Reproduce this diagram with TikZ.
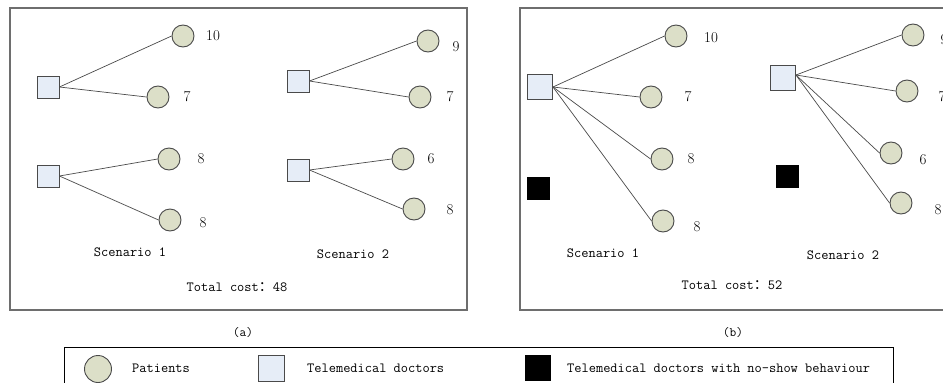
\documentclass[tikz,border=0pt]{standalone}
\usepackage{fontspec}
\newfontfamily\cjk{Noto Sans CJK SC}
\definecolor{patientfill}{HTML}{DCDFC8}
\definecolor{doctorfill}{HTML}{E6EDF7}
\definecolor{edgegray}{HTML}{4A4A4A}
\definecolor{framegray}{HTML}{6E6E6E}
\tikzset{
  patient/.style={circle, draw=edgegray, fill=patientfill, line width=0.9pt, minimum size=22pt, inner sep=0pt},
  doctor/.style={rectangle, draw=edgegray, fill=doctorfill, line width=0.9pt, minimum size=#1, inner sep=0pt},
  doctor/.default=22pt,
  noshow/.style={rectangle, fill=black, minimum size=#1, inner sep=0pt},
  noshow/.default=23pt,
  link/.style={draw=edgegray, line width=0.7pt},
  frame/.style={draw=framegray, line width=1.3pt},
  cost/.style={font=\fontsize{15}{17}\selectfont, inner sep=0pt},
  caption/.style={font=\fontsize{14}{16}\ttfamily, inner sep=0pt},
  tag/.style={font=\fontsize{13}{15}\ttfamily, inner sep=0pt},
}
\newcommand{\fwcolon}{{\cjk ：}}
\begin{document}
\begin{tikzpicture}[x=1pt, y=-1pt]
\useasboundingbox (0,0) rectangle (943,383);
\clip (0,0) rectangle (943,383);
\fill[white] (0,0) rectangle (943,383);

% ---------- panel (a) ----------
\draw[frame] (10,8) rectangle (467,310);
\node[doctor] (a1d) at (48,87) {};
\node[patient] (a1p1) at (183,36) {};
\node[patient] (a1p2) at (158,97) {};
\node[doctor] (a2d) at (48,176) {};
\node[patient] (a2p1) at (169,159) {};
\node[patient] (a2p2) at (170,220) {};
\node[doctor] (a3d) at (298,81) {};
\node[patient] (a3p1) at (428,41) {};
\node[patient] (a3p2) at (420,97) {};
\node[doctor] (a4d) at (298,170) {};
\node[patient] (a4p1) at (403,159) {};
\node[patient] (a4p2) at (414,209) {};
\foreach \d/\p in {a1d/a1p1,a1d/a1p2,a2d/a2p1,a2d/a2p2,a3d/a3p1,a3d/a3p2,a4d/a4p1,a4d/a4p2}
  \draw[link] (\d.east) -- (\p.west);
\node[cost] (a1c1) at (213,36) {10};
\node[cost] (a1c2) at (187,97) {7};
\node[cost] (a2c1) at (201,159) {8};
\node[cost] (a2c2) at (203,223) {8};
\node[cost] (a3c1) at (456,47) {9};
\node[cost] (a3c2) at (450,97) {7};
\node[cost] (a4c1) at (431,159) {6};
\node[cost] (a4c2) at (450,210) {8};
\node[caption] (sa1) at (130,252) {Scenario 1};
\node[caption] (sa2) at (353,254) {Scenario 2};
\node[caption] (ta) at (237,287) {Total cost\fwcolon48};
\node[tag] (capa) at (243,333) {(a)};

% ---------- panel (b) ----------
\draw[frame] (520,8) rectangle (960,310);
\node[doctor=25pt] (b1d) at (540,87) {};
\node[patient] (b1p1) at (676,36) {};
\node[patient] (b1p2) at (651,97) {};
\node[patient] (b1p3) at (662,159) {};
\node[patient] (b1p4) at (663,221) {};
\node[noshow] (b1x) at (538,188) {};
\node[doctor=25pt] (b2d) at (783,78) {};
\node[patient] (b2p1) at (913,35) {};
\node[patient] (b2p2) at (907,91) {};
\node[patient] (b2p3) at (891,153) {};
\node[patient] (b2p4) at (901,203) {};
\node[noshow] (b2x) at (787,176) {};
\foreach \p in {b1p1,b1p2,b1p3,b1p4}
  \draw[link] (b1d.east) -- (\p.west);
\foreach \p in {b2p1,b2p2,b2p3,b2p4}
  \draw[link] ([yshift=3pt]b2d.east) -- (\p.west);
\node[cost] (b1c1) at (711,38) {10};
\node[cost] (b1c2) at (688,97) {7};
\node[cost] (b1c3) at (691,159) {8};
\node[cost] (b1c4) at (697,227) {8};
\node[cost] (b2c1) at (944,40) {9};
\node[cost] (b2c2) at (942,97) {7};
\node[cost] (b2c3) at (923,160) {6};
\node[cost] (b2c4) at (938,210) {8};
\node[caption] (sb1) at (603,253) {Scenario 1};
\node[caption] (sb2) at (843,255) {Scenario 2};
\node[caption] (tb) at (732,285) {Total cost\fwcolon52};
\node[tag] (capb) at (733,333) {(b)};

% ---------- legend ----------
\draw[draw=black, line width=0.8pt] (64,347) rectangle (893,400);
\node[patient, minimum size=27pt] (lp) at (98,369) {};
\node[caption, anchor=west] (lpt) at (132,368) {Patients};
\node[doctor=26pt] (ld) at (271,368) {};
\node[caption, anchor=west] (ldt) at (307,368) {Telemedical doctors};
\node[noshow=26pt] (lx) at (538,368) {};
\node[caption, anchor=west] (lxt) at (567,368) {Telemedical doctors with no-show behaviour};
\end{tikzpicture}
\end{document}
